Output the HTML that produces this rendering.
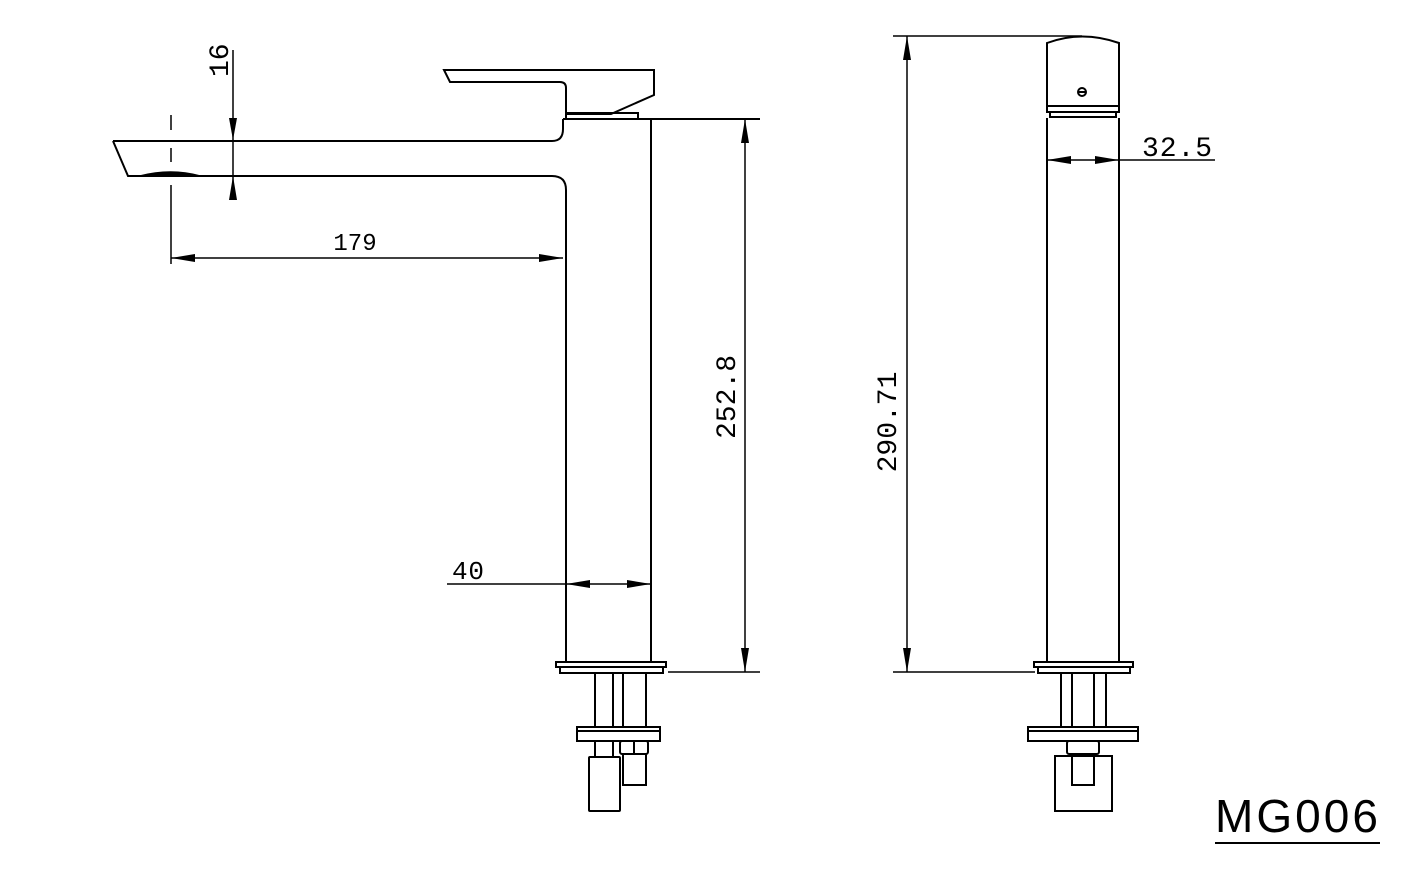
<!DOCTYPE html>
<html><head><style>
html,body{margin:0;padding:0;background:#fff;}
svg{display:block}
text{font-family:"Liberation Mono",monospace;fill:#000}
</style></head><body>
<svg width="1417" height="886" viewBox="0 0 1417 886" xmlns="http://www.w3.org/2000/svg">
<g fill="none" stroke="#000" stroke-width="2">
<path d="M444,70 L654,70 L654,95 L611,114 L566,114 L566,88 Q566,82 560,82 L450,82 Z"/>
<rect x="566" y="113" width="72" height="6"/>
<path d="M113,141 L552,141 Q563,141 563,129 L563,119"/>
<path d="M113,141 L128,176 L552,176 Q566,176 566,190 L566,663"/>
<path d="M140,176 Q171,168 200,176" fill="#000" stroke-width="1.5"/>
<line x1="563" y1="119" x2="760" y2="119"/>
<line x1="651" y1="119" x2="651" y2="663"/>
<rect x="556" y="662" width="110" height="5"/>
<rect x="560" y="667" width="103" height="6"/>
<line x1="595" y1="673" x2="595" y2="727"/><line x1="613" y1="673" x2="613" y2="727"/>
<line x1="623" y1="673" x2="623" y2="727"/><line x1="646" y1="673" x2="646" y2="727"/>
<rect x="577" y="727" width="83" height="14"/><line x1="577" y1="731" x2="660" y2="731"/>
<line x1="595" y1="741" x2="595" y2="757"/><line x1="613" y1="741" x2="613" y2="757"/>
<rect x="589" y="757" width="31" height="54" rx="1"/>
<rect x="620" y="741" width="28" height="13" rx="2"/><line x1="634" y1="741" x2="634" y2="754"/>
<rect x="623" y="754" width="23" height="31"/>
<path d="M1047,107 L1047,43 Q1082,30 1119,43 L1119,107"/>
<circle cx="1082" cy="92" r="4"/><line x1="1078" y1="92" x2="1086" y2="92"/>
<rect x="1047" y="106" width="72" height="6"/>
<rect x="1050" y="112" width="66" height="5"/>
<line x1="1047" y1="118" x2="1047" y2="663"/><line x1="1119" y1="118" x2="1119" y2="663"/>
<rect x="1034" y="662" width="99" height="5"/>
<rect x="1038" y="667" width="92" height="6"/>
<line x1="1061" y1="673" x2="1061" y2="727"/><line x1="1072" y1="673" x2="1072" y2="727"/>
<line x1="1094" y1="673" x2="1094" y2="727"/><line x1="1106" y1="673" x2="1106" y2="727"/>
<rect x="1028" y="727" width="110" height="14"/><line x1="1028" y1="731" x2="1138" y2="731"/>
<rect x="1067" y="741" width="32" height="13" rx="2"/>
<rect x="1055" y="756" width="57" height="55"/>
<rect x="1072" y="754" width="22" height="31"/>
</g>
<g fill="none" stroke="#000" stroke-width="1.5">
<line x1="233" y1="50" x2="233" y2="200"/>
<line x1="171" y1="115" x2="171" y2="130"/><line x1="171" y1="148" x2="171" y2="162"/><line x1="171" y1="185" x2="171" y2="264"/>
<line x1="171" y1="258" x2="563" y2="258"/>
<line x1="447" y1="584" x2="651" y2="584"/>
<line x1="745" y1="119" x2="745" y2="672"/>
<line x1="668" y1="672" x2="760" y2="672"/>
<line x1="893" y1="36" x2="1082" y2="36"/>
<line x1="907" y1="36" x2="907" y2="672"/>
<line x1="893" y1="672" x2="1035" y2="672"/>
<line x1="1047" y1="160" x2="1215" y2="160"/>
</g>
<g fill="#000">
<polygon points="233,140 229,118 237,118"/>
<polygon points="233,176 229,200 237,200"/>
<polygon points="171,258 195,254 195,262"/>
<polygon points="563,258 539,254 539,262"/>
<polygon points="566,584 590,580 590,588"/>
<polygon points="651,584 627,580 627,588"/>
<polygon points="745,119 741,143 749,143"/>
<polygon points="745,672 741,648 749,648"/>
<polygon points="907,36 903,60 911,60"/>
<polygon points="907,672 903,648 911,648"/>
<polygon points="1047,160 1071,156 1071,164"/>
<polygon points="1119,160 1095,156 1095,164"/>
</g>
<text x="355" y="250" font-size="24" text-anchor="middle">179</text>
<text x="452" y="579" font-size="26" textLength="32">40</text>
<text font-size="28" text-anchor="middle" transform="translate(745,397) rotate(-90)" dy="-10">252.8</text>
<text font-size="28" text-anchor="middle" transform="translate(906,422) rotate(-90)" dy="-10">290.71</text>
<text font-size="28" transform="translate(230,77) rotate(-90)" dy="-2">16</text>
<text x="1142" y="156" font-size="28" textLength="70">32.5</text>
<text x="1215" y="832" font-size="46" style="font-family:'Liberation Sans',sans-serif" textLength="163">MG006</text>
<line x1="1215" y1="843" x2="1380" y2="843" stroke="#000" stroke-width="2"/>
</svg>
</body></html>
